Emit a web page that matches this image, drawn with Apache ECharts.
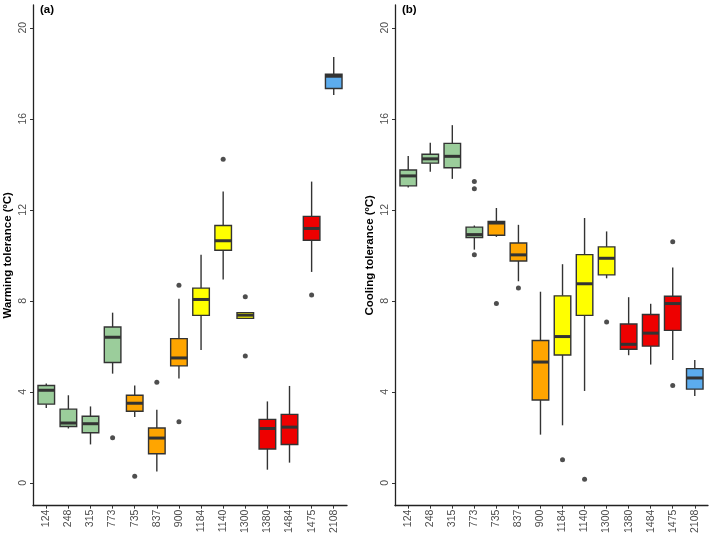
<!DOCTYPE html>
<html>
<head>
<meta charset="utf-8">
<script src="https://cdn.jsdelivr.net/npm/echarts@6/dist/echarts.min.js"></script>
<style>html,body{margin:0;padding:0;background:#fff}#c{width:709px;height:536px}</style>
</head>
<body>
<div id="c"></div>
<script>
// ---- data ----
const categories = ['124','248','315','773','735','837','900','1184','1140','1300','1380','1484','1475','2108'];
const groupOf    = [0,0,0,0,1,1,1,2,2,2,3,3,3,4];
const groupColors = ['#9BCD9B','#FFA500','#FFFF00','#EE0000','#5CACEE'];

const warmMin = [3.29,2.39,1.69,4.80,2.90,0.50,4.59,5.84,8.94,7.20,0.58,0.89,9.27,17.05];
const warmQ1  = [3.46,2.48,2.20,5.29,3.15,1.28,5.14,7.36,10.22,7.23,1.49,1.69,10.66,17.33];
const warmMed = [4.07,2.63,2.60,6.40,3.50,1.97,5.49,8.06,10.64,7.37,2.39,2.45,11.18,17.87];
const warmQ3  = [4.28,3.24,2.93,6.85,3.85,2.41,6.34,8.56,11.31,7.48,2.79,3.01,11.71,17.96];
const warmMax = [4.37,3.85,3.36,7.48,4.28,3.21,8.09,10.03,12.80,7.50,3.58,4.26,13.24,18.72];
const warmOutliers = [[3,1.98],[4,0.29],[5,4.42],[6,8.69],[6,2.69],[8,14.22],[9,8.18],[9,5.58],[12,8.26]];

const coolMin = [12.98,13.67,13.36,10.25,10.81,8.86,2.12,2.53,4.04,8.99,5.61,5.20,5.40,3.82];
const coolQ1  = [13.05,14.05,13.85,10.78,10.88,9.75,3.64,5.62,7.36,9.14,5.87,6.01,6.70,4.12];
const coolMed = [13.49,14.24,14.35,10.91,11.42,10.02,5.31,6.43,8.75,9.87,6.09,6.58,7.88,4.61];
const coolQ3  = [13.75,14.44,14.92,11.24,11.49,10.54,6.26,8.22,10.03,10.37,6.98,7.40,8.20,5.02];
const coolMax = [14.37,14.95,15.72,11.31,12.08,11.34,8.40,9.61,11.64,11.05,8.16,7.87,9.47,5.40];
const coolOutliers = [[3,13.24],[3,12.93],[3,10.03],[4,7.88],[5,8.56],[7,1.02],[8,0.16],[9,7.07],[12,10.60],[12,4.28]];

const yTicks = [0,4,8,12,16,20];
const catIdx = categories.map((c,i)=>i);

// ---- build ----
function boxData(mn,q1,md,q3,mx){
  return categories.map((c,i)=>[i,mn[i],q1[i],md[i],q3[i],mx[i],groupOf[i]]);
}
const edge = '#333333';
function renderBox(params, api){
  const x = api.value(0);
  const lo = api.coord([x, api.value(1)]);
  const q1 = api.coord([x, api.value(2)]);
  const md = api.coord([x, api.value(3)]);
  const q3 = api.coord([x, api.value(4)]);
  const hi = api.coord([x, api.value(5)]);
  const w = api.size([0.75, 0])[0];
  const color = groupColors[api.value(6)];
  return {type:'group', children:[
    {type:'line', shape:{x1:lo[0],y1:lo[1],x2:q1[0],y2:q1[1]}, style:{stroke:edge,lineWidth:1.4}},
    {type:'line', shape:{x1:q3[0],y1:q3[1],x2:hi[0],y2:hi[1]}, style:{stroke:edge,lineWidth:1.4}},
    {type:'rect', shape:{x:q3[0]-w/2,y:q3[1],width:w,height:q1[1]-q3[1]}, style:{fill:color,stroke:edge,lineWidth:1.4}},
    {type:'line', shape:{x1:md[0]-w/2,y1:md[1],x2:md[0]+w/2,y2:md[1]}, style:{stroke:edge,lineWidth:3}}
  ]};
}
const FONT = 'Liberation Sans, Arial, sans-serif';
function xAxis(gi){
  return {type:'value', gridIndex:gi, min:-0.6, max:13.6,
    axisLine:{show:true,onZero:false,lineStyle:{color:'#222',width:1.3}},
    axisTick:{show:true,length:3,lineStyle:{color:'#333'},customValues:catIdx},
    axisLabel:{customValues:catIdx,rotate:90,margin:4,color:'#4D4D4D',fontSize:10.5,fontFamily:FONT,
      formatter:v=>categories[Math.round(v)]},
    splitLine:{show:false}};
}
function yAxis(gi,name){
  return {type:'value', gridIndex:gi, min:-1, max:21, name:name, nameLocation:'middle', nameGap:19,
    nameTextStyle:{fontWeight:'bold',fontSize:11.5,color:'#000',fontFamily:FONT},
    axisLine:{show:true,onZero:false,lineStyle:{color:'#222',width:1.3}},
    axisTick:{show:true,length:3,lineStyle:{color:'#333'},customValues:yTicks},
    axisLabel:{customValues:yTicks,rotate:90,margin:4,color:'#4D4D4D',fontSize:10.5,fontFamily:FONT},
    splitLine:{show:false}};
}
const option = {
  animation:false,
  backgroundColor:'#fff',
  title:[
    {text:'(a)',left:35,top:-1,textStyle:{fontSize:11.5,fontWeight:'bold',color:'#000',fontFamily:FONT}},
    {text:'(b)',left:397,top:-1,textStyle:{fontSize:11.5,fontWeight:'bold',color:'#000',fontFamily:FONT}}
  ],
  grid:[
    {left:33,top:5,width:314,height:502},
    {left:395,top:5,width:313,height:502}
  ],
  xAxis:[xAxis(0),xAxis(1)],
  yAxis:[yAxis(0,'Warming tolerance (ºC)'),yAxis(1,'Cooling tolerance (ºC)')],
  series:[
    {type:'custom',xAxisIndex:0,yAxisIndex:0,renderItem:renderBox,encode:{x:0,y:[1,2,3,4,5]},data:boxData(warmMin,warmQ1,warmMed,warmQ3,warmMax)},
    {type:'scatter',xAxisIndex:0,yAxisIndex:0,symbolSize:5,itemStyle:{color:'#222'},data:warmOutliers},
    {type:'custom',xAxisIndex:1,yAxisIndex:1,renderItem:renderBox,encode:{x:0,y:[1,2,3,4,5]},data:boxData(coolMin,coolQ1,coolMed,coolQ3,coolMax)},
    {type:'scatter',xAxisIndex:1,yAxisIndex:1,symbolSize:5,itemStyle:{color:'#222'},data:coolOutliers}
  ]
};
echarts.init(document.getElementById('c'),null,{renderer:'canvas'}).setOption(option);
</script>
</body>
</html>
